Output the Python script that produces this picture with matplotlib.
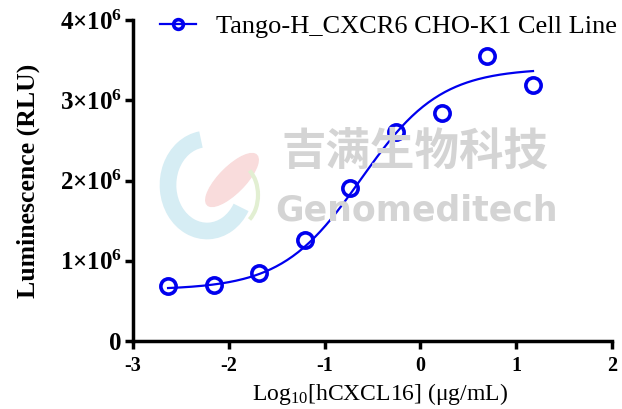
import numpy as np
import matplotlib
matplotlib.use("Agg")
import matplotlib.pyplot as plt
from matplotlib.lines import Line2D
from matplotlib.patches import Arc, Ellipse

plt.rcParams['font.family'] = ['Liberation Serif', 'DejaVu Sans']
plt.rcParams['mathtext.fontset'] = 'custom'
plt.rcParams['mathtext.rm'] = 'Liberation Serif'
plt.rcParams['mathtext.it'] = 'Liberation Serif:italic'
plt.rcParams['mathtext.bf'] = 'Liberation Serif:bold'

# data
log_conc = [-2.635, -2.155, -1.685, -1.205, -0.735, -0.255, 0.225, 0.695, 1.175]
rlu = [0.685e6, 0.70e6, 0.85e6, 1.26e6, 1.91e6, 2.60e6, 2.84e6, 3.55e6, 3.19e6]

# 4PL fit parameters (estimated)
bottom = 0.64e6
top = 3.40e6
log_ec50 = -0.62
hill = 1.05

xticks = [-3, -2, -1, 0, 1, 2]
yticks = [0, 1e6, 2e6, 3e6, 4e6]
ytick_labels = ["0", r"$\mathbf{1{\times}10^{6}}$", r"$\mathbf{2{\times}10^{6}}$",
                r"$\mathbf{3{\times}10^{6}}$", r"$\mathbf{4{\times}10^{6}}$"]

blue = '#0000ee'
W, H = 622, 409

fig = plt.figure(figsize=(6.22, 4.09), dpi=100)
ax = fig.add_axes([0.214, 0.166, 0.770, 0.785])

# watermark (logo blobs + text)
def fx(px):
    return px / W

def fy(py):
    return 1 - py / H

fig.patches.append(Arc((fx(207), fy(185)), 78 / W, 92 / H, theta1=95, theta2=315,
                       lw=12, color='#d6edf4', transform=fig.transFigure, zorder=0))
fig.patches.append(Ellipse((fx(232), fy(180)), 30 / W, 60 / H, angle=-30,
                           color='#f9dcdc', transform=fig.transFigure, zorder=0))
fig.patches.append(Arc((fx(236), fy(195)), 44 / W, 62 / H, theta1=-70, theta2=70,
                       lw=3, color='#e2efd2', transform=fig.transFigure, zorder=0))
fig.text(0.667, 0.628, "吉满生物科技", fontsize=32, fontweight='bold', color='#d4d4d4',
         ha='center', va='center', family=['Noto Sans CJK SC'], zorder=0)
fig.text(0.669, 0.485, "Genomeditech", fontsize=25, fontweight='bold', color='#d4d4d4',
         ha='center', va='center', family=['DejaVu Sans'], zorder=0)
ax.patch.set_alpha(0)

xfit = np.linspace(min(log_conc), max(log_conc), 200)
yfit = bottom + (top - bottom) / (1 + 10 ** ((log_ec50 - xfit) * hill))
ax.plot(xfit, yfit, color=blue, lw=1.6, zorder=3)
ax.plot(log_conc, rlu, 'o', ms=11, mfc='none', mec=blue, mew=2.6, zorder=4)

# legend
h = Line2D([], [], color=blue, lw=1.6, marker='o', ms=7, mfc='none', mec=blue, mew=2.6)
ax.legend([h], ["Tango-H_CXCR6 CHO-K1 Cell Line"], loc='upper left',
          bbox_to_anchor=(0.035, 1.05), frameon=False, fontsize=19,
          handlelength=1.33, handletextpad=0.76, borderaxespad=0)

ax.set_xlim(-3, 2)
ax.set_ylim(0, 4e6)
ax.set_xticks(xticks)
ax.set_xticklabels([str(t) for t in xticks], fontweight='bold', fontsize=14.5)
ax.set_yticks(yticks)
ax.set_yticklabels(ytick_labels, fontweight='bold', fontsize=18)
ax.tick_params(axis='both', width=2.5, length=6, direction='out')
ax.tick_params(axis='x', pad=5)
ax.tick_params(axis='y', pad=2)

for side in ['top', 'right']:
    ax.spines[side].set_visible(False)
for side in ['left', 'bottom']:
    ax.spines[side].set_linewidth(2.5)

ax.set_xlabel(r"Log$_{10}$[hCXCL16] ($\mathrm{\mu}$g/mL)", fontsize=17)
ax.xaxis.set_label_coords(0.515, -0.125)
ax.set_ylabel("Luminescence (RLU)", fontsize=18.5, fontweight='bold', labelpad=14)

fig.savefig("out.png", dpi=100)
